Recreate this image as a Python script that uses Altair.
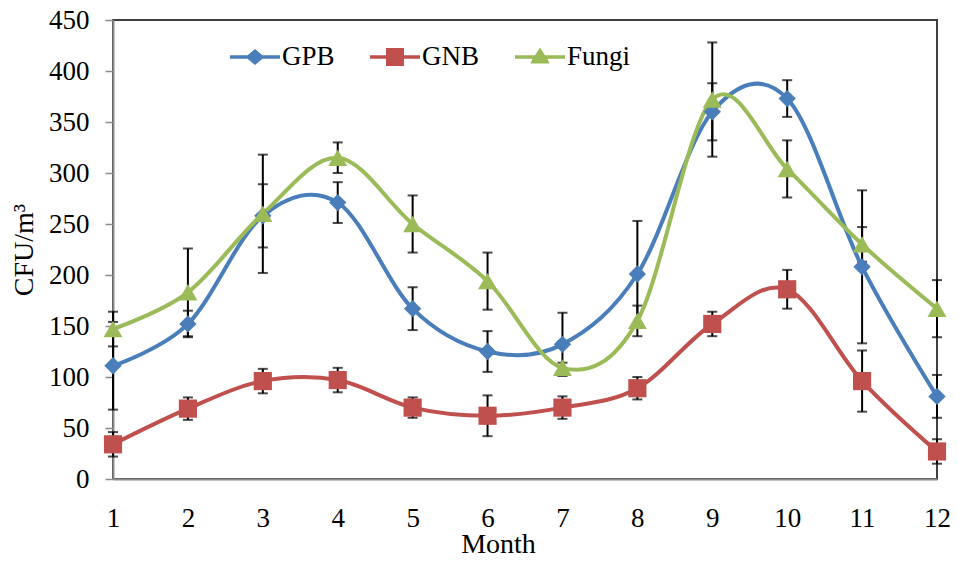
import altair as alt
import pandas as pd

months = list(range(1, 13))
series_names = ["GPB", "GNB", "Fungi"]
gpb = [111, 152, 258, 271, 167, 125, 132, 201, 360, 373, 208, 81]
gpb_err = [43, 13, 31, 20, 21, 20, 31, 52, 28, 18, 75, 21]
gnb = [34, 69, 96, 97, 70, 62, 70, 89, 152, 186, 96, 27]
gnb_err = [12, 11, 12, 12, 10, 20, 11, 11, 12, 19, 30, 12]
fungi = [147, 183, 260, 315, 250, 194, 109, 155, 372, 304, 230, 167]
fungi_err = [17, 43, 58, 15, 28, 28, 5, 15, 56, 28, 17, 28]
colors = ["#4A7EBB", "#C0504D", "#9BBB59"]
marker_shapes = ["diamond", "square", "triangle-up"]
marker_sizes = [300, 330, 360]
y_ticks = list(range(0, 451, 50))

rows = []
for name, vals, errs in zip(series_names, [gpb, gnb, fungi], [gpb_err, gnb_err, fungi_err]):
    for m, v, e in zip(months, vals, errs):
        rows.append({"month": m, "series": name, "value": v, "lo": v - e, "hi": v + e})
df = pd.DataFrame(rows)

FONT = "Liberation Serif"

xscale = alt.Scale(domain=[1, 12], nice=False, zero=False)
yscale = alt.Scale(domain=[0, 450], nice=False)

x_axis = alt.Axis(values=months, format="d", title="Month", grid=False, ticks=False,
                  domainColor="#8C8C8C", domainWidth=2, labelPadding=26,
                  labelFont=FONT, labelFontSize=27, labelColor="black",
                  titleFont=FONT, titleFontSize=28, titleColor="black",
                  titleFontWeight="normal",
                  titlePadding=-1, titleX=385, labelFlush=False)
y_axis = alt.Axis(values=y_ticks, title="CFU/m³", grid=False, tickSize=8,
                  tickColor="#8C8C8C", tickWidth=1.5, domainColor="#8C8C8C",
                  labelFont=FONT, labelFontSize=27, labelColor="black",
                  titleFont=FONT, titleFontSize=28, titleColor="black",
                  titleFontWeight="normal",
                  domainWidth=2, labelPadding=16, titlePadding=10)

x = alt.X("month:Q", scale=xscale, axis=x_axis)
y = alt.Y("value:Q", scale=yscale, axis=y_axis)
y_lo = alt.Y("lo:Q", scale=yscale, axis=y_axis)
y_hi = alt.Y("hi:Q", scale=yscale, axis=y_axis)

base = alt.Chart(df)

line_layers = []
point_layers = []
for name, col, shp, sz in zip(series_names, colors, marker_shapes, marker_sizes):
    sub = base.transform_filter(alt.datum.series == name)
    line_layers.append(sub.mark_line(interpolate="cardinal", strokeWidth=4, color=col).encode(
        x=x, y=y))
    point_layers.append(sub.mark_point(filled=True, opacity=1, shape=shp, size=sz,
                                       color=col).encode(x=x, y=y))

err_rules = base.mark_rule(color="black", strokeWidth=2).encode(
    x=x, y=y_lo, y2="hi:Q")
cap_lo = base.mark_tick(orient="horizontal", color="black", size=10, thickness=2).encode(
    x=x, y=y_lo)
cap_hi = base.mark_tick(orient="horizontal", color="black", size=10, thickness=2).encode(
    x=x, y=y_hi)

legend_paths = [
    "M-1,-0.07L-0.3,-0.07L0,-0.32L0.3,-0.07L1,-0.07L1,0.07L0.3,0.07L0,0.32L-0.3,0.07L-1,0.07Z",
    "M-1,-0.07L-0.36,-0.07L-0.36,-0.36L0.36,-0.36L0.36,-0.07L1,-0.07L1,0.07L0.36,0.07L0.36,0.36L-0.36,0.36L-0.36,0.07L-1,0.07Z",
    "M-1,-0.07L-0.2,-0.07L0,-0.38L0.2,-0.07L1,-0.07L1,0.07L0.3,0.07L0.38,0.26L-0.38,0.26L-0.3,0.07L-1,0.07Z",
]

leg = alt.Legend(orient="none", legendX=117, legendY=12, direction="horizontal", title=None,
                 symbolSize=2500, symbolStrokeWidth=0, symbolOpacity=1,
                 labelFont=FONT, labelFontSize=27, labelColor="black",
                 labelOffset=2, columnPadding=35, padding=0)

legend_layer = alt.Chart(pd.DataFrame({"series": series_names})).mark_point(
    filled=True, opacity=0).encode(
    x=alt.value(0), y=alt.value(0),
    color=alt.Color("series:N", scale=alt.Scale(domain=series_names, range=colors), legend=leg),
    shape=alt.Shape("series:N", scale=alt.Scale(domain=series_names, range=legend_paths),
                    legend=leg))

chart = alt.layer(err_rules, cap_lo, cap_hi, *line_layers, *point_layers, legend_layer).properties(
    width=824, height=459,
    autosize=alt.AutoSizeParams(type="none"),
    padding={"left": 105, "top": 12, "right": 14, "bottom": 77},
    background="white",
).configure_view(
    stroke="#404040", strokeWidth=2
).configure_axis(
    labelFont=FONT, labelFontSize=27, labelColor="black",
    titleFont=FONT, titleFontSize=28, titleColor="black", titleFontWeight="normal",
)

chart.save("out.html", embed_options={"renderer": "svg", "actions": False})
